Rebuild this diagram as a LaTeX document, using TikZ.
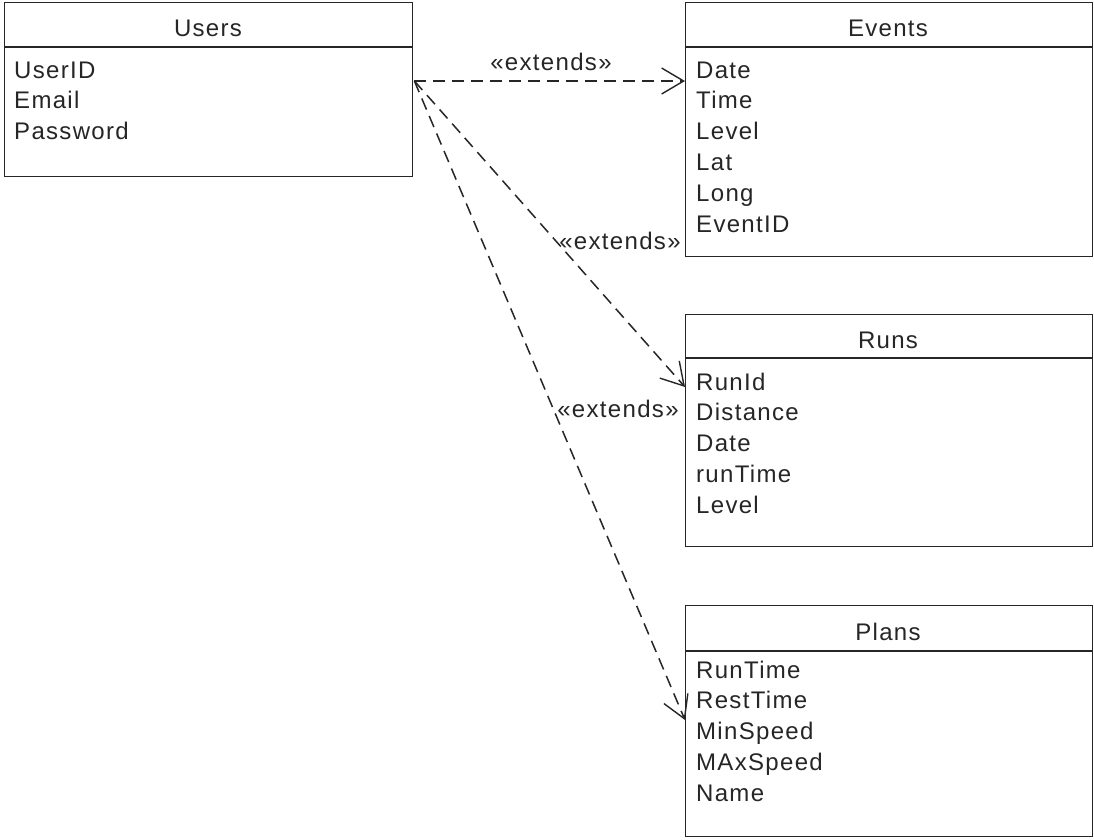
\documentclass[tikz,border=0pt]{standalone}
\usepackage{fontspec}
\setmainfont[LetterSpace=5.5]{Liberation Sans}
\usetikzlibrary{arrows.meta,calc}
\begin{document}
\begin{tikzpicture}[x=1pt,y=-1pt,
  box/.style={draw=black!85,line width=1.4pt,fill=white,rectangle,anchor=north west,inner sep=0pt,minimum width=407pt},
  txt/.style={font=\fontsize{24}{28}\selectfont,text=black!85,inner sep=0pt},
  ttl/.style={txt,anchor=base},
  attr/.style={txt,anchor=base west},
  lbl/.style={txt,anchor=base},
  ext/.style={draw=black!85,line width=1.5pt,dash pattern=on 12pt off 7pt,-{Straight Barb[length=22pt,width=26pt,line width=1.4pt]}},
  divider/.style={draw=black!85,line width=1.4pt}]
\useasboundingbox (0,0) rectangle (1094,839);
\fill[white] (0,0) rectangle (1094,839);
% Users
\node[box,minimum width=408pt,minimum height=174pt] (users) at (4,2) {};
\draw[divider] (4,47) -- (412,47);
\node[ttl] (usersT) at (208,36) {Users};
\node[attr] (u1) at (14,78) {UserID};
\node[attr] (u2) at (14,108.8) {Email};
\node[attr] (u3) at (14,139.6) {Password};
% Events
\node[box,minimum height=254pt] (events) at (685,2) {};
\draw[divider] (685,47) -- (1092,47);
\node[ttl] (eventsT) at (888,36) {Events};
\node[attr] (e1) at (696,78) {Date};
\node[attr] (e2) at (696,108.8) {Time};
\node[attr] (e3) at (696,139.6) {Level};
\node[attr] (e4) at (696,170.4) {Lat};
\node[attr] (e5) at (696,201.2) {Long};
\node[attr] (e6) at (696,232) {EventID};
% Runs
\node[box,minimum height=232pt] (runs) at (685,314) {};
\draw[divider] (685,358) -- (1092,358);
\node[ttl] (runsT) at (888,348) {Runs};
\node[attr] (r1) at (696,390) {RunId};
\node[attr] (r2) at (696,420.8) {Distance};
\node[attr] (r3) at (696,451.6) {Date};
\node[attr] (r4) at (696,482.4) {runTime};
\node[attr] (r5) at (696,513.2) {Level};
% Plans
\node[box,minimum height=231pt] (plans) at (685,605) {};
\draw[divider] (685,651) -- (1092,651);
\node[ttl] (plansT) at (888,640) {Plans};
\node[attr] (p1) at (696,678) {RunTime};
\node[attr] (p2) at (696,708.8) {RestTime};
\node[attr] (p3) at (696,739.6) {MinSpeed};
\node[attr] (p4) at (696,770.4) {MAxSpeed};
\node[attr] (p5) at (696,801.2) {Name};
% connection points
\coordinate (uo) at ($(users.north east)+(1,79)$);
\coordinate (ei) at ($(events.north west)+(0,79)$);
\coordinate (ri) at ($(runs.north west)+(0,73)$);
\coordinate (pi) at ($(plans.north west)+(0,115)$);
\draw[ext] (uo) -- (ei);
\draw[ext] (uo) -- (ri);
\draw[ext] (uo) -- (pi);
\node[lbl] (l1) at (551,70) {«extends»};
\node[lbl] (l2) at (620,249) {«extends»};
\node[lbl] (l3) at (618,417) {«extends»};
\end{tikzpicture}
\end{document}
